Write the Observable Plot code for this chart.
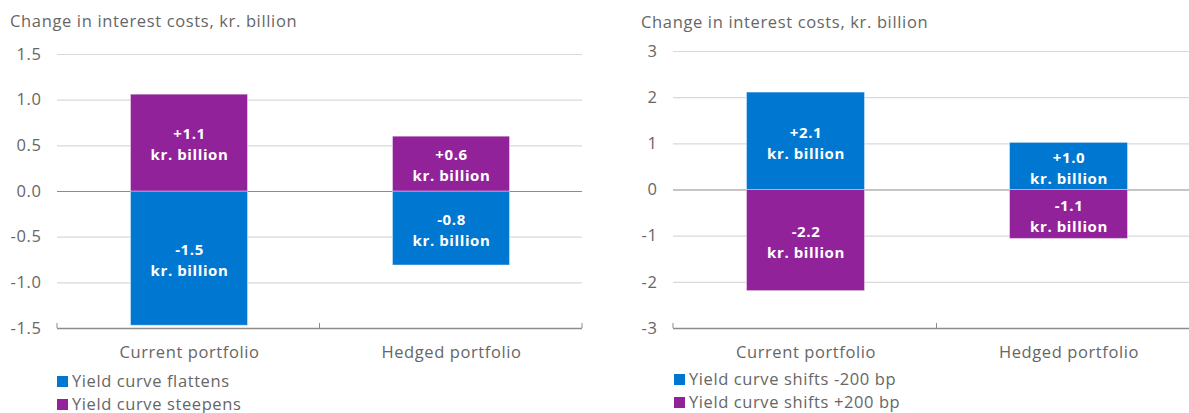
<!DOCTYPE html>
<html><head><meta charset="utf-8">
<script src="https://cdn.jsdelivr.net/npm/d3@7"></script>
<script src="https://cdn.jsdelivr.net/npm/@observablehq/plot@0.6"></script>
<style>
body{margin:0;width:1189px;height:413px;overflow:hidden;font-family:"Open Sans",sans-serif;color:#666;position:relative;background:#fff}
.abs{position:absolute}
.title{font-size:16.5px;line-height:16px;white-space:nowrap;letter-spacing:0.65px}
.leg{font-size:16.5px;line-height:16px;white-space:nowrap;display:flex;align-items:center;letter-spacing:0.6px}
.sw{display:inline-block;width:11px;height:11px;margin-right:4px}
svg{max-width:none !important}
</style></head><body>
<div id="root"></div>
<script>
const portfolios = ["Current portfolio", "Hedged portfolio"];
const leftSeries = ["Yield curve flattens", "Yield curve steepens"];
const leftFlattens = [-1.47, -0.81];
const leftSteepens = [1.06, 0.60];
const leftTicks = [-1.5, -1.0, -0.5, 0, 0.5, 1.0, 1.5];
const rightSeries = ["Yield curve shifts -200 bp", "Yield curve shifts +200 bp"];
const rightMinus200 = [2.11, 1.02];
const rightPlus200 = [-2.19, -1.06];
const rightTicks = [-3, -2, -1, 0, 1, 2, 3];
const titleText = "Change in interest costs, kr. billion";
const unitText = "kr. billion";
const colors = ["#0078d2", "#92229a"];

const loc = d3.formatLocale({decimal: ".", thousands: ",", grouping: [3], currency: ["", ""], minus: "-"});
const fmtLabel = loc.format("+.1f");

function boundaryTicks(n, yv) {
  return (index, scales, values, dims) => {
    const g = d3.create("svg:g");
    const x0 = dims.marginLeft, x1 = dims.width - dims.marginRight;
    const yb = scales.y(yv);
    for (let i = 0; i <= n; i++) {
      const x = x0 + (x1 - x0) * i / n;
      g.append("line").attr("x1", x).attr("x2", x).attr("y1", yb).attr("y2", yb - 5)
        .attr("stroke", "#8c8c8c").attr("stroke-width", 1);
    }
    return g.node();
  };
}

function chart({series, values, ticks, tickFormat, width, marginTop}) {
  const data = [];
  series.forEach((s, i) => values[i].forEach((v, j) => data.push({portfolio: portfolios[j], series: s, value: v})));
  const lo = d3.min(ticks), hi = d3.max(ticks);
  return Plot.plot({
    width, height: 340, marginLeft: 57, marginRight: 0, marginTop, marginBottom: 42,
    style: {fontFamily: "Open Sans", fontSize: "16.5px", color: "#666", overflow: "visible", background: "transparent", letterSpacing: "0.6px"},
    x: {domain: portfolios, padding: 0, label: null, tickSize: 0, tickPadding: 18},
    y: {domain: [lo, hi], ticks, tickFormat, label: null, tickSize: 0, tickPadding: 16},
    color: {domain: series, range: colors},
    marks: [
      Plot.ruleY(ticks.filter(t => t !== lo && t !== 0), {stroke: "#d9d9d9", strokeWidth: 1.2}),
      Plot.ruleY([0], {stroke: "#8c8c8c", strokeWidth: 1.2}),
      Plot.barY(data, {x: "portfolio", y: "value", fill: "series", insetLeft: 72.5, insetRight: 72.5,
        stroke: "white", strokeOpacity: 0.4, strokeWidth: 1}),
      Plot.ruleY([lo], {stroke: "#8c8c8c", strokeWidth: 1.5}),
      boundaryTicks(portfolios.length, lo),
      Plot.text(data, {x: "portfolio", y: d => d.value / 2, text: d => fmtLabel(d.value) + "\n" + unitText,
        fill: "white", fontWeight: "bold", fontSize: 15, lineHeight: 1.4, letterSpacing: 0.4})
    ]
  });
}

const root = document.getElementById("root");
function addDiv(cls, left, top, html, width) {
  const d = document.createElement("div");
  d.className = "abs " + cls;
  d.style.left = left + "px"; d.style.top = top + "px";
  if (width) d.style.width = width + "px";
  d.innerHTML = html;
  root.appendChild(d);
  return d;
}
function addPanel({svgLeft, titleLeft, titleTop, legLeft, legTops, series, values, ticks, tickFormat, width, marginTop}) {
  addDiv("title", titleLeft, titleTop, titleText);
  const wrap = addDiv("", svgLeft, 30, "", width);
  wrap.appendChild(chart({series, values, ticks, tickFormat, width, marginTop}));
  series.forEach((s, i) => {
    addDiv("leg", legLeft, legTops[i], `<span class="sw" style="background:${colors[i]}"></span>${s}`);
  });
}

addPanel({svgLeft: 0, titleLeft: 10, titleTop: 12.5, legLeft: 57, legTops: [373, 396],
  series: leftSeries, values: [leftFlattens, leftSteepens], ticks: leftTicks, tickFormat: loc.format(".1f"),
  width: 582, marginTop: 24});
addPanel({svgLeft: 616, titleLeft: 641, titleTop: 14, legLeft: 674, legTops: [371, 394],
  series: rightSeries, values: [rightMinus200, rightPlus200], ticks: rightTicks, tickFormat: loc.format("d"),
  width: 584, marginTop: 21});
</script>
</body></html>
